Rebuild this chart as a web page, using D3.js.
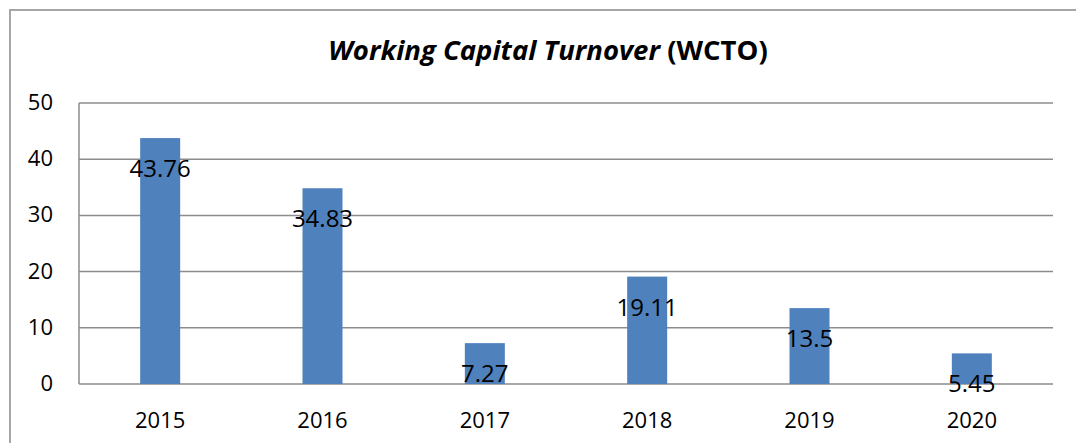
<!DOCTYPE html>
<html><head><meta charset="utf-8">
<script src="https://cdn.jsdelivr.net/npm/d3@7"></script>
<style>body{margin:0;background:#fff}svg{display:block}</style>
</head><body>
<script>
const categories = ["2015","2016","2017","2018","2019","2020"];
const values = [43.76, 34.83, 7.27, 19.11, 13.5, 5.45];
const yTicks = [0,10,20,30,40,50];

(function(){
const W = 1076, H = 443;
const font = "'Open Sans', 'Liberation Sans', sans-serif";
const svg = d3.select("body").append("svg").attr("width", W).attr("height", H);

// outer border
svg.append("rect").attr("x", 10).attr("y", 10).attr("width", 1080).attr("height", 450)
  .attr("fill", "none").attr("stroke", "#a6a6a6").attr("stroke-width", 2);

const pl = 79, pr = 1053, pt = 103, pb = 384;
const x = d3.scaleBand().domain(categories).range([pl, pr]);
const y = d3.scaleLinear().domain([0, 50]).range([pb, pt]);

// gridlines
svg.append("g").selectAll("line").data(yTicks).join("line")
  .attr("x1", pl).attr("x2", pr)
  .attr("y1", d => y(d)).attr("y2", d => y(d))
  .attr("stroke", "#8c8c8c").attr("stroke-width", 1.5);
// left axis line
svg.append("line").attr("x1", pl).attr("x2", pl).attr("y1", pt).attr("y2", pb)
  .attr("stroke", "#8c8c8c").attr("stroke-width", 1.5);

// y tick labels
svg.append("g").selectAll("text").data(yTicks).join("text")
  .attr("x", 53).attr("y", d => y(d) + 7)
  .attr("text-anchor", "end").attr("font-family", font).attr("font-size", 22)
  .text(d => d);

// bars
const bw = 40;
svg.append("g").selectAll("rect").data(values).join("rect")
  .attr("x", (d, i) => x(categories[i]) + x.bandwidth() / 2 - bw / 2)
  .attr("width", bw)
  .attr("y", d => y(d))
  .attr("height", d => pb - y(d))
  .attr("fill", "#4f81bd");

// value labels
svg.append("g").selectAll("text").data(values).join("text")
  .attr("x", (d, i) => x(categories[i]) + x.bandwidth() / 2)
  .attr("y", d => y(d) + 39)
  .attr("text-anchor", "middle").attr("font-family", font).attr("font-size", 24)
  .text(d => d);

// x labels
svg.append("g").selectAll("text").data(categories).join("text")
  .attr("x", d => x(d) + x.bandwidth() / 2).attr("y", 428)
  .attr("text-anchor", "middle").attr("font-family", font).attr("font-size", 22)
  .text(d => d);

// title
const t = svg.append("text").attr("x", 548).attr("y", 60).attr("text-anchor", "middle")
  .attr("font-family", font).attr("font-size", 27.5).attr("font-weight", "bold");
t.append("tspan").attr("font-style", "italic").text("Working Capital Turnover");
t.append("tspan").text(" (WCTO)");
})();
</script>
</body></html>
